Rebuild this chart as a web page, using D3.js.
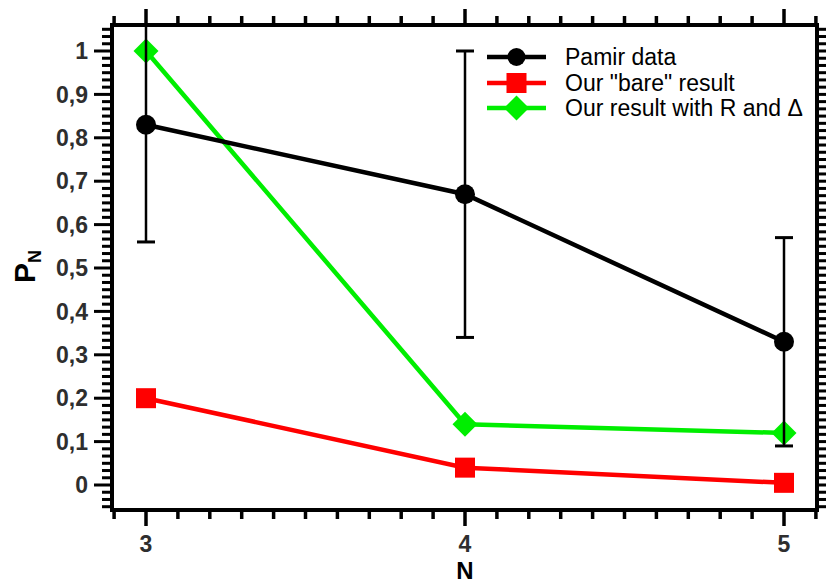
<!DOCTYPE html>
<html>
<head>
<meta charset="utf-8">
<script src="https://cdn.jsdelivr.net/npm/d3@7"></script>
<style>
html,body{margin:0;padding:0;background:#fff;}
svg{display:block;}
</style>
</head>
<body>
<svg id="chart" width="826" height="584"></svg>
<script>
// ---- data ----
const categories = [3, 4, 5];
const pamir = [0.83, 0.67, 0.33];
const pamirLow = [0.56, 0.34, 0.09];
const pamirHigh = [1.10, 1.00, 0.57];
const bare = [0.20, 0.04, 0.005];
const withR = [1.00, 0.14, 0.12];
const yTickValues = [0, 0.1, 0.2, 0.3, 0.4, 0.5, 0.6, 0.7, 0.8, 0.9, 1];
const yTickLabels = ["0", "0,1", "0,2", "0,3", "0,4", "0,5", "0,6", "0,7", "0,8", "0,9", "1"];
const xTickLabels = ["3", "4", "5"];
const seriesNames = ["Pamir data", "Our \"bare\" result", "Our result with R and \u0394"];

// ---- layout ----
const svg = d3.select("#chart");
const L = 112, R = 817, T = 25, B = 510;
const x = d3.scaleLinear().domain([3, 5]).range([146, 784]);
const y = d3.scaleLinear().domain([-0.0576, 1.0599]).range([B, T]);
const font = "'Liberation Sans', Arial, Helvetica, sans-serif";
const labelColor = "#2e2e2e";

// minor ticks
const xMinor = d3.range(29, 52).map(d => d / 10).filter(d => !categories.some(c => Math.abs(c - d) < 1e-9));
const yMinor = d3.range(-3, 64).map(k => k / 60).filter(d => !yTickValues.some(v => Math.abs(v - d) < 1e-9));

const g = svg.append("g");

// clip
svg.append("defs").append("clipPath").attr("id", "clip")
  .append("rect").attr("x", L).attr("y", T).attr("width", R - L).attr("height", B - T);

function drawTicks(vals, orient, len, width) {
  const sel = g.append("g");
  vals.forEach(v => {
    let x1, y1, x2, y2;
    if (orient === "bottom") { x1 = x2 = x(v); y1 = B; y2 = B + len; }
    if (orient === "top") { x1 = x2 = x(v); y1 = T; y2 = T - len; }
    if (orient === "left") { y1 = y2 = y(v); x1 = L; x2 = L - len; }
    if (orient === "right") { y1 = y2 = y(v); x1 = R; x2 = R + len; }
    sel.append("line").attr("x1", x1).attr("y1", y1).attr("x2", x2).attr("y2", y2)
      .attr("stroke", "#000").attr("stroke-width", width);
  });
}
drawTicks(categories, "bottom", 16, 3.5);
drawTicks(xMinor, "bottom", 9, 3.5);
drawTicks(categories, "top", 16, 3.5);
drawTicks(xMinor, "top", 9, 3.5);
drawTicks(yTickValues, "left", 18, 3);
drawTicks(yMinor, "left", 10, 3);
drawTicks(yTickValues, "right", 18, 3);
drawTicks(yMinor, "right", 10, 3);

// frame
g.append("rect").attr("x", L).attr("y", T).attr("width", R - L).attr("height", B - T)
  .attr("fill", "none").attr("stroke", "#000").attr("stroke-width", 4);

// axis labels
g.append("g").selectAll("text").data(yTickValues).join("text")
  .attr("x", L - 24).attr("y", d => y(d)).attr("dy", "0.36em")
  .attr("text-anchor", "end").attr("font-family", font).attr("font-weight", "bold")
  .attr("font-size", 23).attr("fill", labelColor)
  .text((d, i) => yTickLabels[i]);
g.append("g").selectAll("text").data(categories).join("text")
  .attr("x", d => x(d)).attr("y", 552)
  .attr("text-anchor", "middle").attr("font-family", font).attr("font-weight", "bold")
  .attr("font-size", 23).attr("fill", labelColor)
  .text((d, i) => xTickLabels[i]);
g.append("text").attr("x", x(4)).attr("y", 579).attr("text-anchor", "middle")
  .attr("font-family", font).attr("font-weight", "bold").attr("font-size", 24).attr("fill", "#000")
  .text("N");
const yl = g.append("text").attr("transform", "translate(35,283) rotate(-90)")
  .attr("font-family", font).attr("font-weight", "bold").attr("fill", "#000");
yl.append("tspan").attr("font-size", 30).text("P");
yl.append("tspan").attr("font-size", 18).attr("dy", 6).text("N");

// data
const plot = g.append("g").attr("clip-path", "url(#clip)");
const line = d3.line().x(d => x(d[0])).y(d => y(d[1]));
const red = "#ff0000", green = "#00ee00";

function square(sel, cx, cy, s, color) {
  sel.append("rect").attr("x", cx - s / 2).attr("y", cy - s / 2).attr("width", s).attr("height", s).attr("fill", color);
}
function diamond(sel, cx, cy, s, color) {
  sel.append("path").attr("d", `M${cx},${cy - s}L${cx + s},${cy}L${cx},${cy + s}L${cx - s},${cy}Z`).attr("fill", color);
}

plot.append("path").datum(categories.map((c, i) => [c, bare[i]])).attr("d", line)
  .attr("fill", "none").attr("stroke", red).attr("stroke-width", 4.5);
categories.forEach((c, i) => square(plot, x(c), y(bare[i]), 20, red));

plot.append("path").datum(categories.map((c, i) => [c, withR[i]])).attr("d", line)
  .attr("fill", "none").attr("stroke", green).attr("stroke-width", 4.5);
categories.forEach((c, i) => diamond(plot, x(c), y(withR[i]), 12.5, green));

plot.append("path").datum(categories.map((c, i) => [c, pamir[i]])).attr("d", line)
  .attr("fill", "none").attr("stroke", "#000").attr("stroke-width", 4.5);
categories.forEach((c, i) => {
  plot.append("line").attr("x1", x(c)).attr("x2", x(c)).attr("y1", y(pamirLow[i])).attr("y2", y(pamirHigh[i]))
    .attr("stroke", "#000").attr("stroke-width", 2.5);
  [pamirLow[i], pamirHigh[i]].forEach(v => {
    plot.append("line").attr("x1", x(c) - 9).attr("x2", x(c) + 9).attr("y1", y(v)).attr("y2", y(v))
      .attr("stroke", "#000").attr("stroke-width", 3);
  });
  plot.append("circle").attr("cx", x(c)).attr("cy", y(pamir[i])).attr("r", 10).attr("fill", "#000");
});

// legend
const lg = g.append("g");
const rows = [57, 83, 108];
const colors = ["#000", red, green];
rows.forEach((ry, i) => {
  lg.append("line").attr("x1", 487).attr("x2", 546).attr("y1", ry).attr("y2", ry)
    .attr("stroke", colors[i]).attr("stroke-width", 4.5);
  if (i === 0) lg.append("circle").attr("cx", 516.5).attr("cy", ry).attr("r", 9).attr("fill", "#000");
  if (i === 1) square(lg, 516.5, ry, 20, red);
  if (i === 2) diamond(lg, 516.5, ry, 12.5, green);
  lg.append("text").attr("x", 565).attr("y", ry).attr("dy", "0.35em")
    .attr("font-family", font).attr("font-size", 23).attr("fill", "#000").text(seriesNames[i]);
});
</script>
</body>
</html>
